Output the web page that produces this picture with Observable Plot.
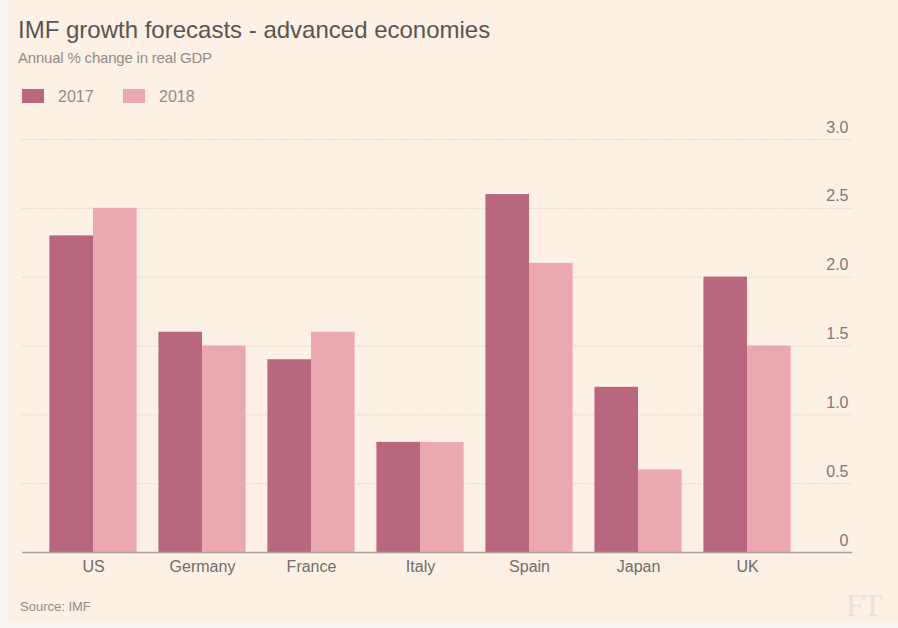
<!DOCTYPE html>
<html>
<head>
<meta charset="utf-8">
<script src="https://cdn.jsdelivr.net/npm/d3@7"></script>
<script src="https://cdn.jsdelivr.net/npm/@observablehq/plot@0.6"></script>
<style>
  html, body { margin: 0; padding: 0; background: #fbf8f4; }
  #wrap { position: relative; width: 898px; height: 628px; overflow: hidden; font-family: "Liberation Sans", Arial, sans-serif; }
  #panel { position: absolute; left: 8px; top: 0; width: 890px; height: 623px; background: #fdf0e4; }
  #title { position: absolute; left: 18px; top: 15px; font-size: 24px; line-height: 30px; color: #5b5551; white-space: nowrap; }
  #subtitle { position: absolute; left: 18px; top: 49px; font-size: 15px; line-height: 17px; color: #948c87; white-space: nowrap; letter-spacing: -0.2px; }
  #legend { position: absolute; left: 22px; top: 88px; height: 18px; font-size: 16px; color: #948c87; }
  .item { position: absolute; top: 0; white-space: nowrap; }
  .sw { position: absolute; top: 1px; width: 22px; height: 14px; }
  .lab { position: absolute; top: 0; line-height: 17px; }
  #chart { position: absolute; left: 0; top: 115px; }
  #source { position: absolute; left: 20px; top: 599px; font-size: 13px; line-height: 16px; color: #948c87; }
  #ft { position: absolute; left: 846px; top: 588px; font-family: "Liberation Serif", "DejaVu Serif", serif; font-size: 32px; line-height: 34px; color: #ece1d6; letter-spacing: -1px; }
</style>
</head>
<body>
<div id="wrap">
  <div id="panel"></div>
  <div id="title">IMF growth forecasts - advanced economies</div>
  <div id="subtitle">Annual % change in real GDP</div>
  <div id="legend"></div>
  <div id="chart"></div>
  <div id="source">Source: IMF</div>
  <div id="ft">FT</div>
</div>
<script>
const countries = ["US", "Germany", "France", "Italy", "Spain", "Japan", "UK"];
const growth2017 = [2.3, 1.6, 1.4, 0.8, 2.6, 1.2, 2.0];
const growth2018 = [2.5, 1.5, 1.6, 0.8, 2.1, 0.6, 1.5];
const years = ["2017", "2018"];
const yTicks = [0, 0.5, 1, 1.5, 2, 2.5, 3];
const yTickLabels = ["0", "0.5", "1.0", "1.5", "2.0", "2.5", "3.0"];

const colors = ["#b8677f", "#eaa8b1"];
const half = 0.4;  // half-width of a country group, in group units

// legend
const legend = document.getElementById("legend");
const legendX = [0, 101];
years.forEach((y, k) => {
  const it = document.createElement("div");
  it.className = "item";
  it.style.left = legendX[k] + "px";
  it.innerHTML = `<span class="sw" style="background:${colors[k]}"></span><span class="lab" style="left:36px">${y}</span>`;
  legend.appendChild(it);
});

// table
const rows = [];
countries.forEach((c, i) => {
  rows.push({country: c, i, year: years[0], value: growth2017[i], x1: i - half, x2: i});
  rows.push({country: c, i, year: years[1], value: growth2018[i], x1: i, x2: i + half});
});

const xMin = -0.6514, xMax = 6.963;

const chart = Plot.plot({
  width: 898,
  height: 467,
  marginLeft: 22,
  marginRight: 46,
  marginTop: 24,
  marginBottom: 30,
  style: {background: "transparent", fontFamily: "Liberation Sans, Arial, sans-serif", fontSize: "16px", color: "#736c67", overflow: "visible"},
  x: {domain: [xMin, xMax], axis: null},
  y: {domain: [0, 3], axis: null},
  color: {domain: years, range: colors},
  marks: [
    Plot.ruleY(yTicks.filter(d => d > 0), {stroke: "#ddd1c6", strokeWidth: 1, strokeDasharray: "1.5,1.5"}),
    Plot.rect(rows, {x1: "x1", x2: "x2", y1: 0, y2: "value", fill: "year"}),
    Plot.ruleY([0], {stroke: "#ab9f98", strokeWidth: 1.5}),
    Plot.axisX ? Plot.axisX(d3.range(countries.length), {tickSize: 0, tickPadding: 8, tickFormat: i => countries[i], fontSize: 16, fill: "#736c67"}) : null,
    Plot.text(yTicks, {x: () => xMax, y: d => d, text: (d, k) => yTickLabels[k], textAnchor: "end", dx: -4, dy: -12, fill: "#817974", fontSize: 16})
  ].filter(Boolean)
});
document.getElementById("chart").appendChild(chart);
</script>
</body>
</html>
